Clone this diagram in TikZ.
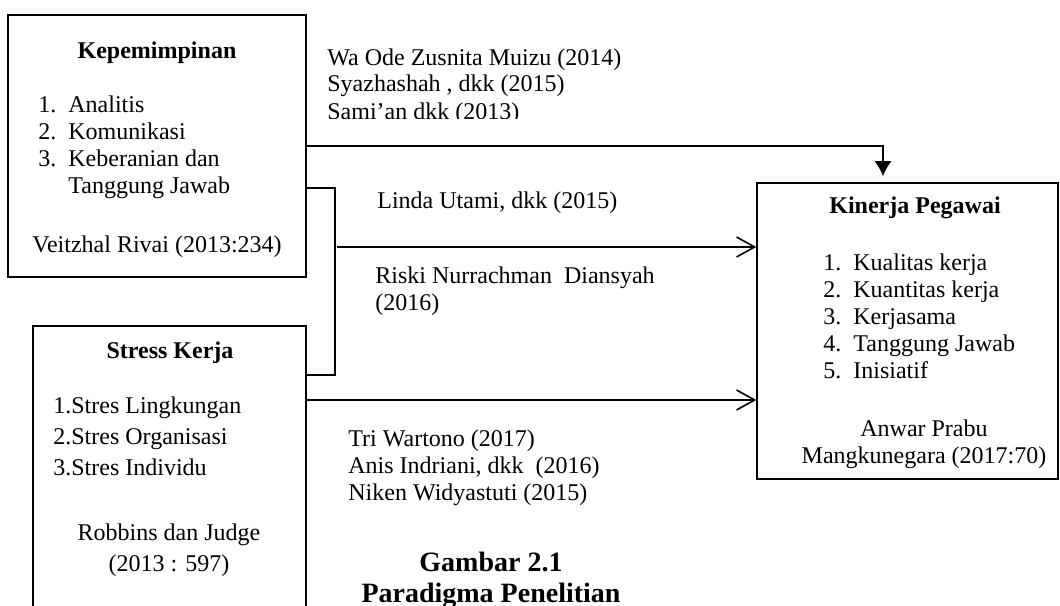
\documentclass[tikz,border=0pt]{standalone}
\usepackage{fontspec}
\setmainfont{Liberation Serif}
\usetikzlibrary{arrows.meta,positioning}
\tikzset{
  kotak/.style={draw, line width=0.8pt, inner sep=0pt},
  teks/.style={inner sep=0pt, font=\fontsize{12}{13.5}\selectfont},
  judul/.style={inner sep=0pt, font=\fontsize{12}{13.5}\selectfont\bfseries},
  garis/.style={line width=0.8pt},
  panah/.style={garis, -{Straight Barb[length=9pt,width=10pt]}}
}
\newcommand{\butir}[1]{\makebox[15pt][l]{#1}}

\begin{document}
\begin{tikzpicture}[x=0.5pt, y=-0.5pt]
  \useasboundingbox (0,0) rectangle (1060,605);
  \clip (0,0) rectangle (1060,605);

  % kotak variabel
  \node[kotak, minimum width=149pt, minimum height=131pt]   (kpm) at (157,146)   {};
  \node[kotak, minimum width=136.5pt, minimum height=167pt] (sk)  at (169.5,493) {};
  \node[kotak, minimum width=150.5pt, minimum height=148pt] (kp)  at (907.5,331) {};

  % isi kepemimpinan (baris terakhir sebagai base)
  \node[judul, anchor=base]                   (kpm_j) at (157,58)  {Kepemimpinan};
  \node[teks, anchor=base west, align=left]   (kpm_i) at (38,193)  {\butir{1.}Analitis\\ \butir{2.}Komunikasi\\ \butir{3.}Keberanian dan\\ \butir{}Tanggung Jawab};
  \node[teks, anchor=base]                    (kpm_s) at (157,252) {Veitzhal Rivai (2013:234)};

  % isi stress kerja
  \node[judul, anchor=base]                   (sk_j) at (170,358) {Stress Kerja};
  \node[teks, anchor=base west, align=left]   (sk_i) at (53,475)  {1.Stres Lingkungan\\[2pt] 2.Stres Organisasi\\[2pt] 3.Stres Individu};
  \node[teks, anchor=base, align=center]      (sk_s) at (169,571) {Robbins dan Judge\\[2pt] (2013 : 597)};

  % isi kinerja pegawai
  \node[judul, anchor=base]                   (kp_j) at (915,213) {Kinerja Pegawai};
  \node[teks, anchor=base west, align=left]   (kp_i) at (823,378) {\butir{1.}Kualitas kerja\\ \butir{2.}Kuantitas kerja\\ \butir{3.}Kerjasama\\ \butir{4.}Tanggung Jawab\\ \butir{5.}Inisiatif};
  \node[teks, anchor=base, align=center]      (kp_s) at (924,463) {Anwar Prabu\\ Mangkunegara (2017:70)};

  % rujukan penelitian
  \begin{scope}
    \clip (300,0) rectangle (760,118);
    \node[teks, anchor=base west, align=left] (r_atas) at (327,119) {Wa Ode Zusnita Muizu (2014)\\ Syazhashah , dkk (2015)\\ Sami'an dkk (2013)};
  \end{scope}
  \node[teks, anchor=base west]               (r_linda) at (377,208) {Linda Utami, dkk (2015)};
  \node[teks, anchor=base west, align=left]   (r_riski) at (375,310) {Riski Nurrachman\ \ Diansyah\\ (2016)};
  \node[teks, anchor=base west, align=left]   (r_bawah) at (348,500) {Tri Wartono (2017)\\ Anis Indriani, dkk\ \ (2016)\\ Niken Widyastuti (2015)};

  \node[anchor=base, align=center, inner sep=0pt, font=\fontsize{14}{15.5}\selectfont\bfseries] (gbr) at (491,602) {Gambar 2.1\\ Paradigma Penelitian};

  % penghubung
  \coordinate (siku)    at (883,146);
  \coordinate (sambung) at (335,188);
  \coordinate (sambung2) at (335,375);
  \coordinate (tengah)  at (337,247);
  \coordinate (bawah)   at (306,400);

  \draw[garis, -{Latex[length=7.5pt,width=8.5pt]}, shorten >=3pt]
    (kpm.east |- siku) -- (siku) -- (siku |- kp.north);
  \draw[garis] (kpm.east |- sambung) -- (sambung) -- (sambung2) -- (sk.east |- sambung2);
  \draw[panah] (tengah) -- (tengah -| kp.west);
  \draw[panah] (bawah) -- (bawah -| kp.west);
\end{tikzpicture}
\end{document}
